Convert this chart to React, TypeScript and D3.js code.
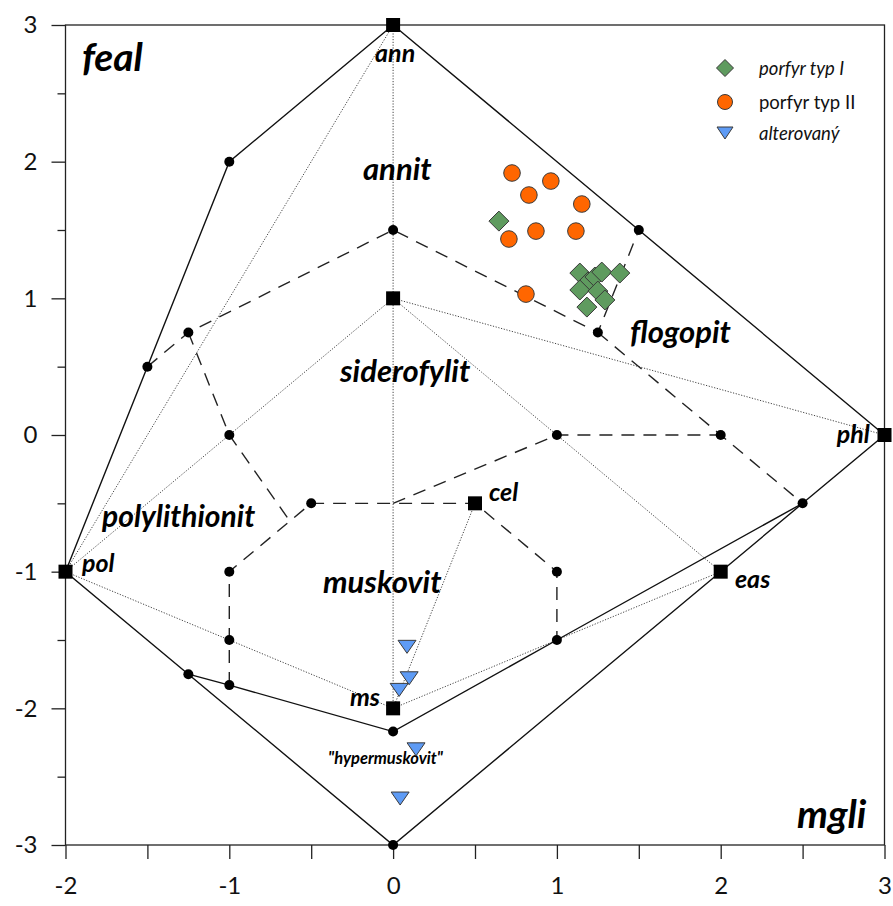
import React, { useEffect, useRef } from "react";
import * as d3 from "d3";

const W = 893;
const H = 906;
const X_DOMAIN: [number, number] = [-2, 3];
const Y_DOMAIN: [number, number] = [-3, 3];

// ---- data -------------------------------------------------------------
// end-member compositions (black squares)
const endMemberX = [0, 0, 3, -2, 0.5, 2, 0];
const endMemberY = [3, 1, 0, -1, -0.5, -1, -2];

// field-boundary nodes (black dots)
const nodeX = [-1, -1.5, -1.25, 0, 1.5, 1.25, -1, 1, 2, 2.5, -0.5, -1, 1, -1, 1, -1.25, -1, 0, 0];
const nodeY = [2, 0.5, 0.75, 1.5, 1.5, 0.75, 0, 0, 0, -0.5, -0.5, -1, -1, -1.5, -1.5, -1.75, -1.83, -2.17, -3];

// solid outlines
const outerFrame: [number, number][] = [
  [0, 3], [1.5, 1.5], [3, 0], [2.5, -0.5], [2, -1], [0, -3],
  [-1.25, -1.75], [-2, -1], [-1.5, 0.5], [-1, 2], [0, 3],
];
const lowerBoundary: [number, number][] = [
  [-1.25, -1.75], [-1, -1.83], [0, -2.17], [1, -1.5], [2.5, -0.5],
];

// dashed field boundaries
const dashedLines: [number, number][][] = [
  [[-1.5, 0.5], [-1.25, 0.75], [0, 1.5], [1.25, 0.75], [1.5, 1.5]],
  [[-1.25, 0.75], [-1, 0], [-0.63, -0.63]],
  [[-1, -1.83], [-1, -1.5], [-1, -1], [-0.5, -0.5], [0.5, -0.5], [1, -1], [1, -1.5]],
  [[0, -0.5], [1, 0], [2, 0]],
  [[1.25, 0.75], [2, 0], [2.5, -0.5]],
];

// dotted tie lines between end members
const dottedLines: [number, number][][] = [
  [[0, 3], [0, -2]],
  [[0, 3], [-2, -1]],
  [[0, 1], [-1, 0], [-2, -1]],
  [[0, 1], [1, 0], [2, -1]],
  [[0, 1], [3, 0]],
  [[-2, -1], [-1, -1.5], [0, -2]],
  [[0, -2], [1, -1.5], [2, -1]],
  [[0.5, -0.5], [0, -2]],
];

// samples
const typ1X = [0.646, 1.14, 1.19, 1.232, 1.274, 1.384, 1.14, 1.25, 1.293, 1.183];
const typ1Y = [1.565, 1.185, 1.12, 1.156, 1.192, 1.185, 1.061, 1.053, 0.988, 0.936];
const typ2X = [0.726, 0.963, 0.829, 1.152, 0.707, 0.872, 1.116, 0.811];
const typ2Y = [1.917, 1.858, 1.756, 1.69, 1.434, 1.492, 1.492, 1.031];
const altX = [0.085, 0.098, 0.037, 0.14, 0.043];
const altY = [-1.55, -1.78, -1.865, -2.3, -2.66];

const xTicks = d3.range(-2, 3.001, 0.5);
const yTicks = d3.range(-3, 3.001, 0.5);

// field and end-member names
const fieldNames = ["feal", "mgli", "annit", "siderofylit", "flogopit", "polylithionit", "muskovit"];
const memberNames = ["ann", "phl", "pol", "cel", "eas", "ms", "\"hypermuskovit\""];
const legendNames = ["porfyr typ I", "porfyr typ II", "alterovaný"];

// ---- layout -----------------------------------------------------------
const plot = { left: 65.5, right: 884.5, top: 25, bottom: 845 };
const fieldPos: [number, number, number][] = [
  // left x (data), baseline y (data), font size
  [-1.9, 2.66, 39],
  [2.466, -2.876, 39],
  [-0.184, 1.866, 31],
  [-0.324, 0.388, 31],
  [1.446, 0.673, 31],
  [-1.777, -0.673, 30],
  [-0.428, -1.156, 31],
];
const memberPos: [number, number, number][] = [
  [-0.11, 2.729, 25],
  [2.708, -0.059, 25],
  [-1.899, -1.002, 25],
  [0.585, -0.483, 25],
  [2.087, -1.119, 25],
  [-0.263, -1.983, 25],
  [-0.397, -2.407, 16.5],
];

const FONT = "Lato, 'Open Sans', sans-serif";

function diamondPath(r: number) {
  return `M0,${-r}L${r},0L0,${r}L${-r},0Z`;
}
function triPath(w: number, h: number) {
  return `M${-w},${-h}L${w},${-h}L0,${h}Z`;
}

export default function App() {
  const ref = useRef<SVGSVGElement>(null);

  useEffect(() => {
    const svg = d3.select(ref.current);
    svg.selectAll("*").remove();

    const x = d3.scaleLinear().domain(X_DOMAIN).range([plot.left, plot.right]);
    const y = d3.scaleLinear().domain(Y_DOMAIN).range([plot.bottom, plot.top]);
    const line = d3
      .line<[number, number]>()
      .x((d) => x(d[0]))
      .y((d) => y(d[1]));

    // axes
    const fmt = (d: d3.NumberValue) => (Number.isInteger(+d) ? String(d) : "");
    const gx = svg
      .append("g")
      .attr("transform", `translate(0,${plot.bottom})`)
      .call(d3.axisBottom(x).tickValues(xTicks).tickFormat(fmt).tickSize(14).tickSizeOuter(0).tickPadding(18));
    const gy = svg
      .append("g")
      .attr("transform", `translate(${plot.left},0)`)
      .call(d3.axisLeft(y).tickValues(yTicks).tickFormat(fmt).tickSize(8).tickSizeOuter(0).tickPadding(20));
    for (const g of [gx, gy]) {
      g.select(".domain").remove();
      g.selectAll("line").attr("stroke", "#222").attr("stroke-width", 1.3);
      g.selectAll("text")
        .attr("font-family", FONT)
        .attr("font-size", 24)
        .attr("fill", "#111");
    }
    gy.selectAll(".tick line").attr("x2", (d: any) => (Number.isInteger(d) ? -14 : -8));

    // frame
    svg
      .append("rect")
      .attr("x", plot.left)
      .attr("y", plot.top)
      .attr("width", plot.right - plot.left)
      .attr("height", plot.bottom - plot.top)
      .attr("fill", "none")
      .attr("stroke", "#222")
      .attr("stroke-width", 1.3);

    // dotted tie lines
    svg
      .append("g")
      .selectAll("path")
      .data(dottedLines)
      .join("path")
      .attr("d", line)
      .attr("fill", "none")
      .attr("stroke", "#444")
      .attr("stroke-width", 1)
      .attr("stroke-dasharray", "1.2 1.6");

    // dashed boundaries
    svg
      .append("g")
      .selectAll("path")
      .data(dashedLines)
      .join("path")
      .attr("d", line)
      .attr("fill", "none")
      .attr("stroke", "#222")
      .attr("stroke-width", 1.4)
      .attr("stroke-dasharray", "13 9");

    // solid outlines
    svg
      .append("g")
      .selectAll("path")
      .data([outerFrame, lowerBoundary])
      .join("path")
      .attr("d", line)
      .attr("fill", "none")
      .attr("stroke", "#111")
      .attr("stroke-width", 1.4);

    // nodes
    svg
      .append("g")
      .selectAll("circle")
      .data(nodeX.map((v, i) => [v, nodeY[i]]))
      .join("circle")
      .attr("cx", (d) => x(d[0]))
      .attr("cy", (d) => y(d[1]))
      .attr("r", 5)
      .attr("fill", "#000");

    // end members
    svg
      .append("g")
      .selectAll("rect")
      .data(endMemberX.map((v, i) => [v, endMemberY[i]]))
      .join("rect")
      .attr("x", (d) => x(d[0]) - 7)
      .attr("y", (d) => y(d[1]) - 7)
      .attr("width", 14)
      .attr("height", 14)
      .attr("fill", "#000");

    // labels
    const labels = svg.append("g").attr("font-family", FONT).attr("font-weight", 700).attr("font-style", "italic").attr("fill", "#000");
    fieldNames.forEach((t, i) => {
      const [lx, ly, fs] = fieldPos[i];
      labels.append("text").attr("x", x(lx)).attr("y", y(ly)).attr("font-size", fs).text(t);
    });
    memberNames.forEach((t, i) => {
      const [lx, ly, fs] = memberPos[i];
      labels.append("text").attr("x", x(lx)).attr("y", y(ly)).attr("font-size", fs).text(t);
    });

    // samples
    const stroke = "#3a3a3a";
    svg
      .append("g")
      .selectAll("circle")
      .data(typ2X.map((v, i) => [v, typ2Y[i]]))
      .join("circle")
      .attr("cx", (d) => x(d[0]))
      .attr("cy", (d) => y(d[1]))
      .attr("r", 8.3)
      .attr("fill", "#FF6600")
      .attr("stroke", stroke)
      .attr("stroke-width", 1);
    svg
      .append("g")
      .selectAll("path")
      .data(typ1X.map((v, i) => [v, typ1Y[i]]))
      .join("path")
      .attr("transform", (d) => `translate(${x(d[0])},${y(d[1])})`)
      .attr("d", diamondPath(10))
      .attr("fill", "#5F9B5F")
      .attr("stroke", stroke)
      .attr("stroke-width", 1);
    svg
      .append("g")
      .selectAll("path")
      .data(altX.map((v, i) => [v, altY[i]]))
      .join("path")
      .attr("transform", (d) => `translate(${x(d[0])},${y(d[1])})`)
      .attr("d", triPath(9, 6.5))
      .attr("fill", "#5E9BF5")
      .attr("stroke", stroke)
      .attr("stroke-width", 1);

    // legend
    const lg = svg.append("g").attr("font-family", FONT).attr("font-size", 18.5).attr("fill", "#111");
    const rows = [68, 102, 133];
    lg.append("path").attr("transform", `translate(725,${rows[0]})`).attr("d", diamondPath(8.5)).attr("fill", "#5F9B5F").attr("stroke", stroke);
    lg.append("circle").attr("cx", 725).attr("cy", rows[1]).attr("r", 7.5).attr("fill", "#FF6600").attr("stroke", stroke);
    lg.append("path").attr("transform", `translate(725,${rows[2]})`).attr("d", triPath(8, 6)).attr("fill", "#5E9BF5").attr("stroke", stroke);
    legendNames.forEach((t, i) => {
      lg.append("text")
        .attr("x", 759)
        .attr("y", rows[i] + 7)
        .attr("font-style", i === 1 ? "normal" : "italic")
        .text(t);
    });
  }, []);

  return (
    <svg
      ref={ref}
      width={W}
      height={H}
      style={{ position: "absolute", left: 0, top: 0, background: "#fff" }}
    />
  );
}
